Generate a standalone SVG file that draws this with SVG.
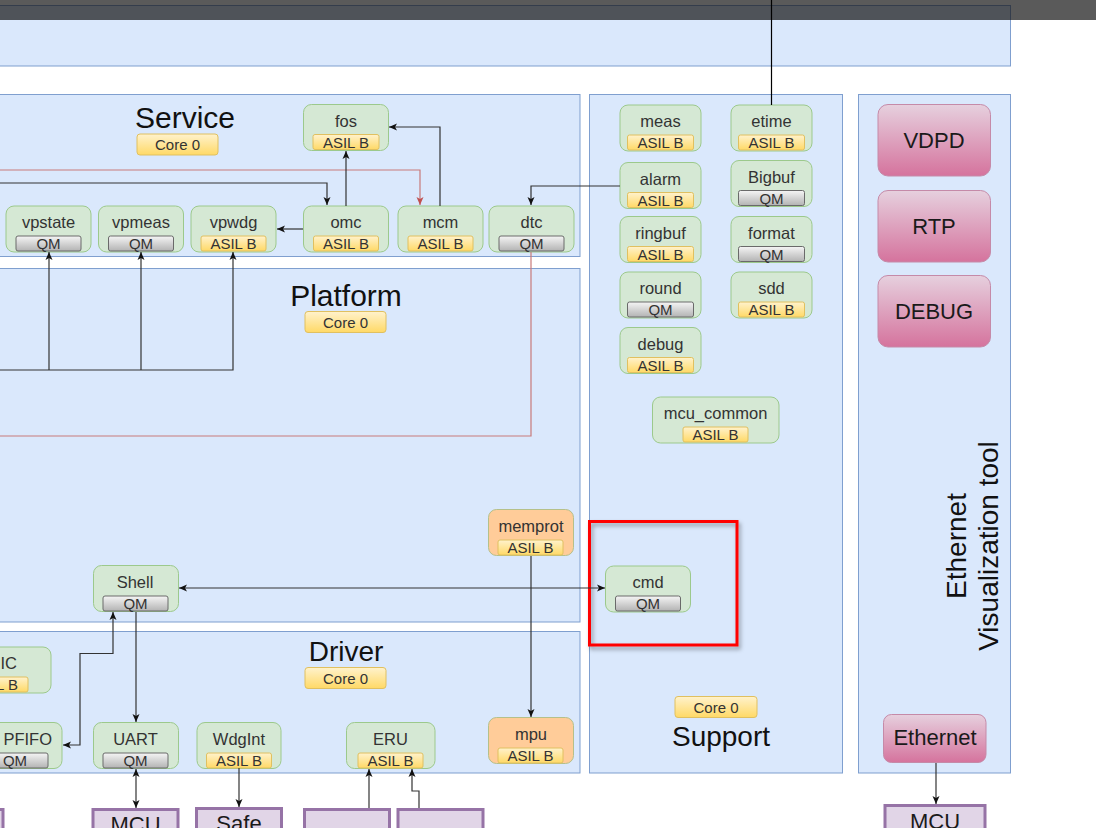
<svg xmlns="http://www.w3.org/2000/svg" width="1096" height="828" viewBox="0 0 1096 828">
<defs>
<style>
.ct{fill:#dae8fc;stroke:#7f9fcf;stroke-width:1}
.nd{fill:#d5e8d4;stroke:#9cc98c;stroke-width:1}
.or{fill:#ffcc99;stroke:#b5c08a;stroke-width:1}
.bq{fill:url(#gq);stroke:#6a6a6a;stroke-width:1}
.ba{fill:url(#ga);stroke:#e0c060;stroke-width:1}
.pk{fill:url(#gp);stroke:#c58aa8;stroke-width:1}
.pu{fill:#e1d5e7;stroke:#9673a6;stroke-width:3}
.nm{font-family:'Liberation Sans',Arial,sans-serif;font-size:16.5px;fill:#333;text-anchor:middle}
.bt{font-family:'Liberation Sans',Arial,sans-serif;font-size:15px;fill:#333;text-anchor:middle}
.tt{font-family:'Liberation Sans',Arial,sans-serif;font-size:28px;fill:#111;text-anchor:middle}
.tl{font-size:30px}
.pt{font-family:'Liberation Sans',Arial,sans-serif;font-size:22px;fill:#1a1a1a;text-anchor:middle}
.ln{fill:none;stroke:#333;stroke-width:1.2}
.rl{fill:none;stroke:#c87a7a;stroke-width:1.2}
</style>
<linearGradient id="gq" x1="0" y1="0" x2="0" y2="1"><stop offset="0" stop-color="#f5f5f5"/><stop offset="1" stop-color="#b3b3b3"/></linearGradient>
<linearGradient id="ga" x1="0" y1="0" x2="0" y2="1"><stop offset="0" stop-color="#fff2cc"/><stop offset="1" stop-color="#ffd966"/></linearGradient>
<linearGradient id="gp" x1="0" y1="0" x2="0" y2="1"><stop offset="0" stop-color="#e6d0de"/><stop offset="1" stop-color="#d5739d"/></linearGradient>
<marker id="ar" viewBox="0 0 8 8" refX="8" refY="4" markerWidth="8" markerHeight="8" markerUnits="userSpaceOnUse" orient="auto-start-reverse"><path d="M0,0.5 L8,4 L0,7.5 L2,4 z" fill="#111"/></marker>
<marker id="arr" viewBox="0 0 8 8" refX="8" refY="4" markerWidth="8" markerHeight="8" markerUnits="userSpaceOnUse" orient="auto-start-reverse"><path d="M0,0.5 L8,4 L0,7.5 L2,4 z" fill="#c05050"/></marker>
<filter id="sh" x="-10%" y="-10%" width="130%" height="130%"><feDropShadow dx="2" dy="3" stdDeviation="2" flood-color="#000" flood-opacity="0.35"/></filter>
</defs>
<rect x="0" y="0" width="1096" height="828" fill="#fff"/>

<!-- containers -->
<g id="top-container"><rect class="ct" x="-2" y="5.5" width="1012.5" height="60.5"/></g>
<g id="service">
<rect class="ct" x="-2" y="94.5" width="582" height="162"/>
<text class="tt tl" x="185" y="128">Service</text>
<rect class="ba" x="137" y="134" width="81" height="21" rx="3"/><text class="bt" x="177.5" y="150">Core 0</text>
</g>
<g id="platform">
<rect class="ct" x="-2" y="268.5" width="582" height="353.5"/>
<text class="tt tl" x="346" y="306">Platform</text>
<rect class="ba" x="305" y="311.5" width="81" height="21" rx="3"/><text class="bt" x="345.5" y="327.5">Core 0</text>
</g>
<g id="driver">
<rect class="ct" x="-2" y="631.5" width="582" height="141.5"/>
<text class="tt" x="346" y="661">Driver</text>
<rect class="ba" x="305" y="667.5" width="81" height="21" rx="3"/><text class="bt" x="345.5" y="683.5">Core 0</text>
</g>
<g id="support">
<rect class="ct" x="589.5" y="94.5" width="253" height="678.5"/>
<rect class="ba" x="675" y="696.5" width="82" height="21" rx="3"/><text class="bt" x="716" y="712.5">Core 0</text>
<text class="tt" x="721" y="746">Support</text>
</g>
<g id="eth-vis">
<rect class="ct" x="858.5" y="94.5" width="152" height="678.5"/>
<text class="tt" transform="translate(966,546) rotate(-90)">Ethernet</text>
<text class="tt" transform="translate(998,546) rotate(-90)">Visualization tool</text>
</g>

<!-- Service nodes -->
<g id="fos"><rect class="nd" x="303.5" y="104.5" width="85" height="46" rx="8"/><text class="nm" x="346" y="126.5">fos</text><rect class="ba" x="313" y="134.5" width="66" height="15" rx="2"/><text class="bt" x="346" y="147.5">ASIL B</text></g>
<g id="vpstate"><rect class="nd" x="6" y="206" width="85" height="46" rx="8"/><text class="nm" x="48.5" y="228">vpstate</text><rect class="bq" x="16" y="236" width="65" height="15" rx="2"/><text class="bt" x="48.5" y="249">QM</text></g>
<g id="vpmeas"><rect class="nd" x="98.5" y="206" width="85" height="46" rx="8"/><text class="nm" x="141" y="228">vpmeas</text><rect class="bq" x="108.5" y="236" width="65" height="15" rx="2"/><text class="bt" x="141" y="249">QM</text></g>
<g id="vpwdg"><rect class="nd" x="191" y="206" width="85" height="46" rx="8"/><text class="nm" x="233.5" y="228">vpwdg</text><rect class="ba" x="201" y="236" width="65" height="15" rx="2"/><text class="bt" x="233.5" y="249">ASIL B</text></g>
<g id="omc"><rect class="nd" x="303.5" y="206" width="85" height="46" rx="8"/><text class="nm" x="346" y="228">omc</text><rect class="ba" x="313.5" y="236" width="65" height="15" rx="2"/><text class="bt" x="346" y="249">ASIL B</text></g>
<g id="mcm"><rect class="nd" x="398" y="206" width="85" height="46" rx="8"/><text class="nm" x="440.5" y="228">mcm</text><rect class="ba" x="408" y="236" width="65" height="15" rx="2"/><text class="bt" x="440.5" y="249">ASIL B</text></g>
<g id="dtc"><rect class="nd" x="489" y="206" width="85" height="46" rx="8"/><text class="nm" x="531.5" y="228">dtc</text><rect class="bq" x="499" y="236" width="65" height="15" rx="2"/><text class="bt" x="531.5" y="249">QM</text></g>

<!-- Support nodes -->
<g id="meas"><rect class="nd" x="620" y="105" width="81" height="46" rx="8"/><text class="nm" x="660.5" y="127">meas</text><rect class="ba" x="627.5" y="135" width="66" height="15" rx="2"/><text class="bt" x="660.5" y="148">ASIL B</text></g>
<g id="etime"><rect class="nd" x="731" y="105" width="81" height="46" rx="8"/><text class="nm" x="771.5" y="127">etime</text><rect class="ba" x="738.5" y="135" width="66" height="15" rx="2"/><text class="bt" x="771.5" y="148">ASIL B</text></g>
<g id="alarm"><rect class="nd" x="620" y="162.5" width="81" height="46" rx="8"/><text class="nm" x="660.5" y="184.5">alarm</text><rect class="ba" x="627.5" y="192.5" width="66" height="15" rx="2"/><text class="bt" x="660.5" y="205.5">ASIL B</text></g>
<g id="Bigbuf"><rect class="nd" x="731" y="160.5" width="81" height="46" rx="8"/><text class="nm" x="771.5" y="182.5">Bigbuf</text><rect class="bq" x="738.5" y="190.5" width="66" height="15" rx="2"/><text class="bt" x="771.5" y="203.5">QM</text></g>
<g id="ringbuf"><rect class="nd" x="620" y="216.5" width="81" height="46" rx="8"/><text class="nm" x="660.5" y="238.5">ringbuf</text><rect class="ba" x="627.5" y="246.5" width="66" height="15" rx="2"/><text class="bt" x="660.5" y="259.5">ASIL B</text></g>
<g id="format"><rect class="nd" x="731" y="216.5" width="81" height="46" rx="8"/><text class="nm" x="771.5" y="238.5">format</text><rect class="bq" x="738.5" y="246.5" width="66" height="15" rx="2"/><text class="bt" x="771.5" y="259.5">QM</text></g>
<g id="round"><rect class="nd" x="620" y="272" width="81" height="46" rx="8"/><text class="nm" x="660.5" y="294">round</text><rect class="bq" x="627.5" y="302" width="66" height="15" rx="2"/><text class="bt" x="660.5" y="315">QM</text></g>
<g id="sdd"><rect class="nd" x="731" y="272" width="81" height="46" rx="8"/><text class="nm" x="771.5" y="294">sdd</text><rect class="ba" x="738.5" y="302" width="66" height="15" rx="2"/><text class="bt" x="771.5" y="315">ASIL B</text></g>
<g id="debug"><rect class="nd" x="620" y="327.5" width="81" height="46" rx="8"/><text class="nm" x="660.5" y="349.5">debug</text><rect class="ba" x="627.5" y="357.5" width="66" height="15" rx="2"/><text class="bt" x="660.5" y="370.5">ASIL B</text></g>
<g id="mcu_common"><rect class="nd" x="652.5" y="397" width="126.5" height="46" rx="8"/><text class="nm" x="715.5" y="419">mcu_common</text><rect class="ba" x="683" y="427" width="65" height="15" rx="2"/><text class="bt" x="715.5" y="440">ASIL B</text></g>
<g id="cmd"><rect class="nd" x="605.5" y="566" width="85" height="46" rx="8"/><text class="nm" x="648" y="588">cmd</text><rect class="bq" x="615.5" y="596" width="65" height="15" rx="2"/><text class="bt" x="648" y="609">QM</text></g>
<g id="highlight"><rect x="589.5" y="521.5" width="147.5" height="123.5" fill="none" stroke="#ff0000" stroke-width="3" filter="url(#sh)"/></g>

<!-- Right panel -->
<g id="VDPD"><rect class="pk" x="878" y="104.5" width="112.5" height="71.5" rx="10"/><text class="pt" x="934" y="148">VDPD</text></g>
<g id="RTP"><rect class="pk" x="878" y="190.5" width="112.5" height="71.5" rx="10"/><text class="pt" x="934" y="234">RTP</text></g>
<g id="DEBUG"><rect class="pk" x="878" y="275.5" width="112.5" height="71.5" rx="10"/><text class="pt" x="934" y="319">DEBUG</text></g>
<g id="Ethernet"><rect class="pk" x="883.5" y="714.5" width="102.5" height="48" rx="8"/><text class="pt" x="935" y="745">Ethernet</text></g>

<!-- Platform nodes -->
<g id="memprot"><rect class="or" x="488.5" y="509.5" width="85" height="46" rx="8"/><text class="nm" x="531" y="531.5">memprot</text><rect class="ba" x="498" y="540" width="65" height="15" rx="2"/><text class="bt" x="530.5" y="553">ASIL B</text></g>
<g id="Shell"><rect class="nd" x="93.5" y="565.5" width="85" height="46" rx="8"/><text class="nm" x="135" y="587.5">Shell</text><rect class="bq" x="103" y="596" width="65" height="15" rx="2"/><text class="bt" x="135.5" y="609">QM</text></g>

<!-- Driver nodes -->
<g id="IC"><rect class="nd" x="-34" y="647" width="85" height="46" rx="8"/><text class="nm" x="17" y="669" style="text-anchor:end">IC</text><rect class="ba" x="-38" y="677" width="66" height="15" rx="2"/><text class="bt" x="-5" y="690">ASIL B</text></g>
<g id="PFIFO"><rect class="nd" x="-23" y="722.5" width="85" height="46" rx="8"/><text class="nm" x="52" y="744.5" style="text-anchor:end">PFIFO</text><rect class="bq" x="-18" y="753" width="66" height="15" rx="2"/><text class="bt" x="15" y="766">QM</text></g>
<g id="UART"><rect class="nd" x="93.5" y="722.5" width="85" height="46" rx="8"/><text class="nm" x="135.5" y="744.5">UART</text><rect class="bq" x="103" y="753" width="65" height="15" rx="2"/><text class="bt" x="135.5" y="766">QM</text></g>
<g id="WdgInt"><rect class="nd" x="197" y="722.5" width="84" height="46" rx="8"/><text class="nm" x="239" y="744.5">WdgInt</text><rect class="ba" x="206.5" y="753" width="65" height="15" rx="2"/><text class="bt" x="239" y="766">ASIL B</text></g>
<g id="ERU"><rect class="nd" x="346.5" y="722.5" width="88.5" height="46" rx="8"/><text class="nm" x="390.5" y="744.5">ERU</text><rect class="ba" x="358" y="753" width="65" height="15" rx="2"/><text class="bt" x="390.5" y="766">ASIL B</text></g>
<g id="mpu"><rect class="or" x="488.5" y="717.5" width="85" height="46" rx="8"/><text class="nm" x="531" y="739.5">mpu</text><rect class="ba" x="498" y="748" width="65" height="15" rx="2"/><text class="bt" x="530.5" y="761">ASIL B</text></g>

<!-- Bottom external boxes -->
<g id="ext-left"><rect class="pu" x="-20" y="809.5" width="23" height="40"/></g>
<g id="MCU"><rect class="pu" x="93" y="809.5" width="85" height="40"/><text class="pt" x="135.5" y="832">MCU</text></g>
<g id="Safe"><rect class="pu" x="196.5" y="808.5" width="85" height="40"/><text class="pt" x="239" y="831">Safe</text></g>
<g id="ext-3"><rect class="pu" x="304.5" y="809.5" width="85" height="40"/></g>
<g id="ext-4"><rect class="pu" x="398" y="809.5" width="85" height="40"/></g>
<g id="MCU2"><rect class="pu" x="885" y="805.5" width="100" height="40"/><text class="pt" x="935" y="829">MCU</text></g>

<!-- connectors -->
<g id="connectors">
<path class="rl" d="M-2,170 H420 V205" marker-end="url(#arr)"/>
<path class="rl" d="M531,252 V436 H-2"/>
<path class="ln" d="M-2,183 H327 V205" marker-end="url(#ar)"/>
<path class="ln" d="M346,206 V151" marker-end="url(#ar)"/>
<path class="ln" d="M440,206 V127 H389" marker-end="url(#ar)"/>
<path class="ln" d="M303,229 H277" marker-end="url(#ar)"/>
<path class="ln" d="M620,186 H531 V205" marker-end="url(#ar)"/>
<path class="ln" d="M-2,370 H233 V252" marker-end="url(#ar)"/>
<path class="ln" d="M49,370 V252" marker-end="url(#ar)"/>
<path class="ln" d="M141,370 V252" marker-end="url(#ar)"/>
<path class="ln" d="M179,588 H605" marker-start="url(#ar)" marker-end="url(#ar)"/>
<path class="ln" d="M531,556 V717" marker-end="url(#ar)"/>
<path class="ln" d="M113,612 V653.5 H80 V745 H63" marker-start="url(#ar)" marker-end="url(#ar)"/>
<path class="ln" d="M136,612 V722" marker-end="url(#ar)"/>
<path class="ln" d="M136,769 V808" marker-start="url(#ar)" marker-end="url(#ar)"/>
<path class="ln" d="M239,768 V807" marker-end="url(#ar)"/>
<path class="ln" d="M369,808 V769" marker-end="url(#ar)"/>
<path class="ln" d="M419,808 V791 H412 V769" marker-end="url(#ar)"/>
<path class="ln" d="M936,763 V804" marker-end="url(#ar)"/>
</g>

<!-- top dark bar overlay -->
<g id="top-bar"><rect x="0" y="0" width="1096" height="20" fill="#141414" fill-opacity="0.7"/></g>
<g id="etime-link"><path d="M771.5,0 V105" fill="none" stroke="#000" stroke-width="1.2"/></g>
</svg>
